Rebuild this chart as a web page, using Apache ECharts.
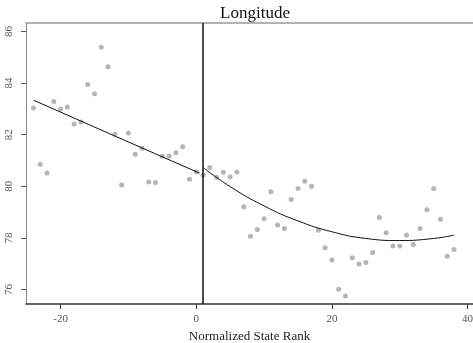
<!DOCTYPE html>
<html>
<head>
<meta charset="utf-8">
<script src="https://cdn.jsdelivr.net/npm/echarts@6/dist/echarts.min.js"></script>
<style>
  html, body { margin: 0; padding: 0; background: #fff; }
  #chart { width: 473px; height: 343px; }
</style>
</head>
<body>
<div id="chart"></div>
<script>
// Normalized state rank and the state's longitude
const ranks = [-24, -23, -22, -21, -20, -19, -18, -17, -16, -15, -14, -13, -12, -11, -10, -9, -8, -7, -6, -5, -4, -3, -2, -1,
  0, 1, 2, 3, 4, 5, 6, 7, 8, 9, 10, 11, 12, 13, 14, 15, 16, 17, 18, 19, 20, 21, 22, 23, 24, 25, 26, 27, 28, 29, 30,
  31, 32, 33, 34, 35, 36, 37, 38];
const longitude = [83.04, 80.86, 80.52, 83.29, 83.0, 83.07, 82.42, 82.49, 83.95, 83.59, 85.39, 84.63, 82.02, 80.05, 82.07,
  81.24, 81.48, 80.17, 80.15, 81.17, 81.18, 81.30, 81.53, 80.27,
  80.57, 80.43, 80.73, 80.35, 80.55, 80.37, 80.56, 79.21, 78.07, 78.33, 78.74, 79.79, 78.50, 78.37, 79.49, 79.92,
  80.20, 80.0, 78.30, 77.62, 77.15, 76.01, 75.75, 77.23, 76.99, 77.05, 77.44, 78.79, 78.20, 77.69, 77.69,
  78.11, 77.75, 78.37, 79.09, 79.92, 78.72, 77.29, 77.55];

// Fitted curves on each side of the cutoff
const fitLeftX = [-24, -12, 0.5];
const fitLeftY = [83.34, 81.95, 80.51];
const fitRightX = [1, 5, 10, 15, 20, 25, 30, 35, 38];
const fitRightY = [80.73, 79.99, 79.24, 78.66, 78.24, 77.98, 77.90, 77.98, 78.11];

const cutoff = 1;
const xTicks = [-20, 0, 20, 40];
const yTicks = [76, 78, 80, 82, 84, 86];

const zip = (xs, ys) => xs.map((x, i) => [x, ys[i]]);
const serif = '"Liberation Serif", "DejaVu Serif", serif';

const chart = echarts.init(document.getElementById('chart'), null, { renderer: 'canvas' });
chart.setOption({
  animation: false,
  backgroundColor: '#fff',
  title: {
    text: 'Longitude',
    left: 250,
    textAlign: 'center',
    top: 0,
    textStyle: { fontFamily: serif, fontWeight: 'normal', fontSize: 17, color: '#111' }
  },
  grid: { left: 26, right: 0, top: 23, bottom: 39, outerBoundsMode: 'none', containLabel: false },
  xAxis: [{
    type: 'value',
    min: -25.1,
    max: 40.8,
    name: 'Normalized State Rank',
    nameLocation: 'middle',
    nameGap: 19,
    nameTextStyle: { fontFamily: serif, fontSize: 13, color: '#222' },
    axisLine: { show: true, onZero: false, lineStyle: { color: '#333', width: 1.5 } },
    axisTick: { show: true, length: 5, customValues: xTicks, lineStyle: { color: '#333' } },
    axisLabel: { customValues: xTicks, margin: 10, fontFamily: serif, fontSize: 11, color: '#555' },
    splitLine: { show: false }
  }, {
    type: 'value',
    position: 'top',
    min: -25.1,
    max: 40.8,
    axisLine: { show: true, onZero: false, lineStyle: { color: '#999', width: 1.5 } },
    axisTick: { show: false },
    axisLabel: { show: false },
    splitLine: { show: false }
  }],
  yAxis: {
    type: 'value',
    min: 75.44,
    max: 86.33,
    axisLine: { show: true, onZero: false, lineStyle: { color: '#888', width: 1 } },
    axisTick: { show: true, length: 5, customValues: yTicks, lineStyle: { color: '#555' } },
    axisLabel: { customValues: yTicks, rotate: 90, margin: 11, fontFamily: serif, fontSize: 11, color: '#555' },
    splitLine: { show: false }
  },
  series: [{
    type: 'scatter',
    data: zip(ranks, longitude),
    symbolSize: 5,
    itemStyle: { color: '#a3a3a3' },
    markLine: {
      silent: true,
      symbol: 'none',
      label: { show: false },
      lineStyle: { color: '#111', width: 1.5, type: 'solid' },
      data: [{ xAxis: cutoff }]
    }
  }, {
    type: 'line',
    data: zip(fitLeftX, fitLeftY),
    showSymbol: false,
    lineStyle: { color: '#111', width: 1 }
  }, {
    type: 'line',
    data: zip(fitRightX, fitRightY),
    smooth: true,
    showSymbol: false,
    lineStyle: { color: '#111', width: 1 }
  }]
});
</script>
</body>
</html>
